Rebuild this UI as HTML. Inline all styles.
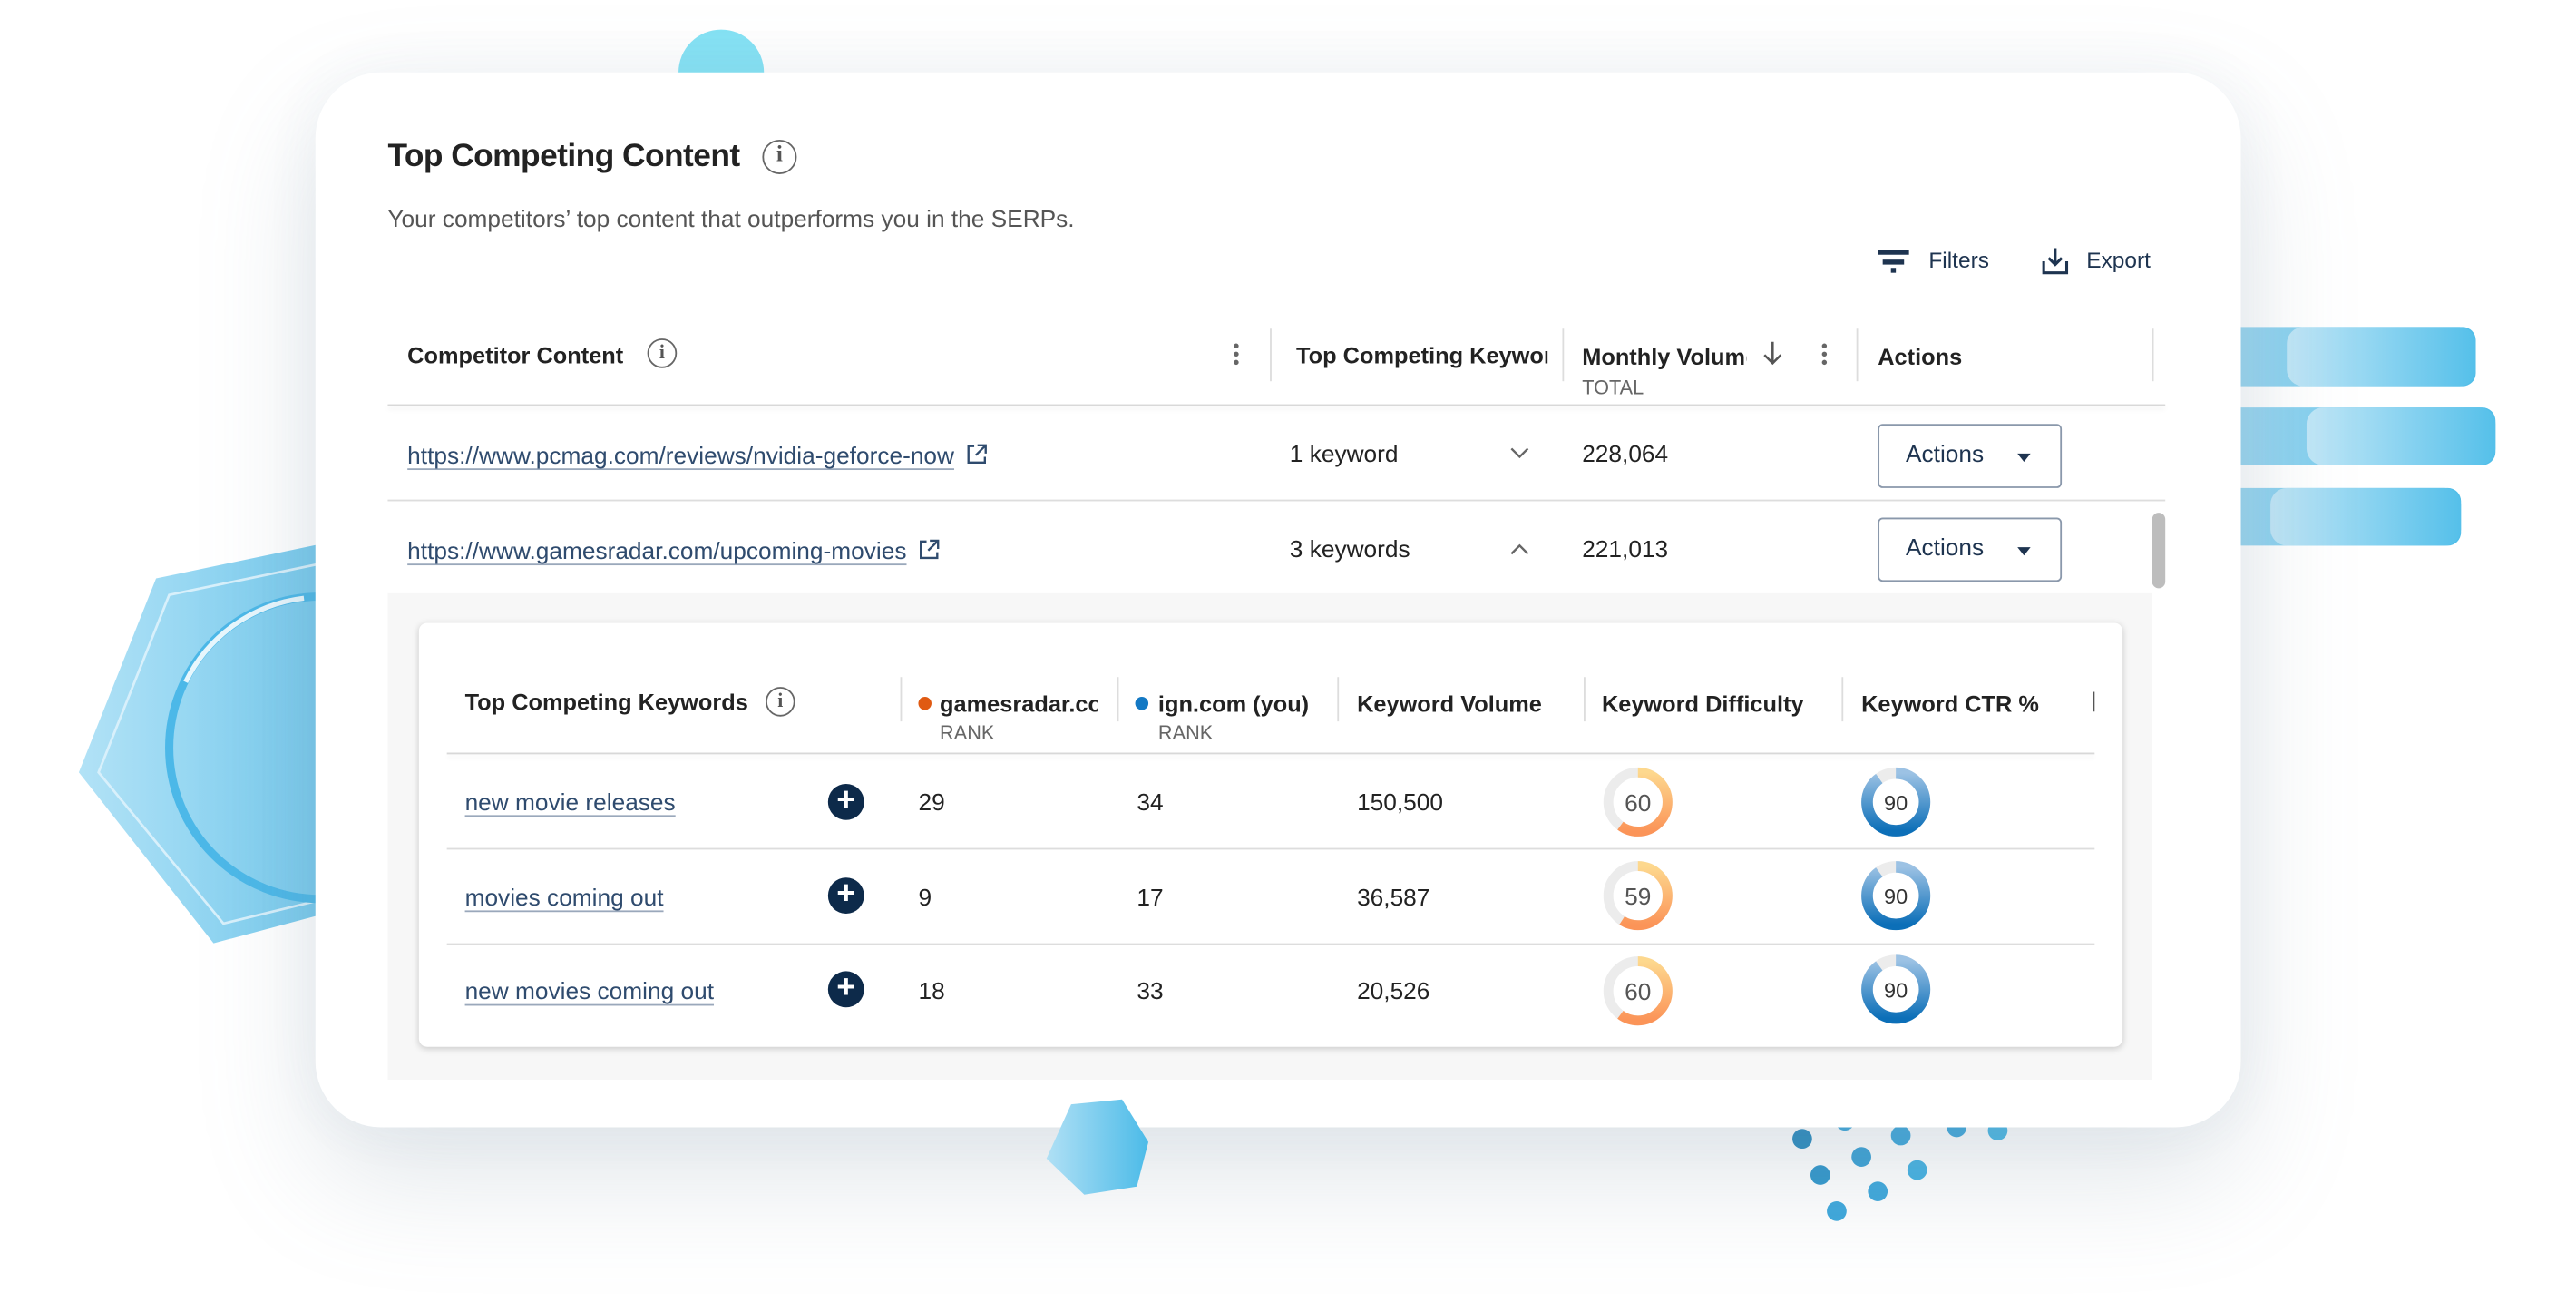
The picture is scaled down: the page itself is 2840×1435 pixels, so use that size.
<!DOCTYPE html>
<html><head><meta charset="utf-8">
<style>
html,body{margin:0;padding:0;width:2840px;height:1434px;overflow:hidden;background:#fff;}
#w{position:absolute;left:0;top:0;width:1568px;height:792px;transform:scale(1.81122);transform-origin:0 0;font-family:"Liberation Sans",sans-serif;color:#222;}
.a{position:absolute;white-space:nowrap;}
.card{position:absolute;left:192px;top:44px;width:1172px;height:642px;background:#fff;border-radius:40px;box-shadow:0 30px 80px rgba(120,140,160,0.22),0 0 40px rgba(120,140,160,0.08);}
.h{font-size:14px;font-weight:bold;color:#222;}
.t{font-size:14.5px;color:#222;}
.lk{font-size:14.5px;color:#2f4b6e;text-decoration:underline;text-decoration-color:#9aa8bb;text-underline-offset:3px;}
.vd{position:absolute;width:1px;background:#ddd;}
.hl{position:absolute;height:1px;background:#ddd;}
.info{position:absolute;border:1.6px solid #666;border-radius:50%;box-sizing:border-box;text-align:center;color:#555;font-weight:bold;font-family:"Liberation Serif",serif;}
.btn{position:absolute;width:112px;height:39px;border:1.5px solid #8a98ab;border-radius:3px;box-sizing:border-box;background:#fff;}
.btn span{position:absolute;left:16px;top:10px;font-size:14.5px;color:#1e3450;}
.btn i{position:absolute;left:84px;top:17px;width:0;height:0;border-left:4.5px solid transparent;border-right:4.5px solid transparent;border-top:5px solid #1e3450;}
.plus{position:absolute;width:22px;height:22px;border-radius:50%;background:#0d2a4a;color:#fff;font-size:20px;line-height:21px;text-align:center;font-weight:bold;}
.kb{position:absolute;width:3px;}
.kb b{display:block;width:3px;height:3px;border-radius:50%;background:#666;margin-bottom:2px;}
.ext{margin-left:7px;vertical-align:-1px;}
</style></head><body><div id="w">
<div class="a" style="left:413px;top:18px;width:52px;height:52px;border-radius:50%;background:#86e3f5;"></div>
<svg class="a" style="left:0;top:300px" width="260" height="300">
<defs><linearGradient id="hg" x1="0" x2="1"><stop offset="0" stop-color="#b2e2f6"/><stop offset="1" stop-color="#6cc6ec"/></linearGradient></defs>
<polygon points="48,170 95,52 200,30 220,250 130,274" fill="url(#hg)"/>
<polygon points="60,170 103,62 200,42 210,244 136,262" fill="none" stroke="#d8f0fb" stroke-width="1.5"/>
<circle cx="195" cy="155" r="92" fill="none" stroke="#4cb8e8" stroke-width="5"/>
<path d="M113,115 A92,92 0 0 1 185,64" fill="none" stroke="#e8f7fd" stroke-width="3"/>
</svg>
<svg class="a" style="left:1340px;top:190px" width="200" height="150">
<defs><linearGradient id="bg" x1="0" x2="1"><stop offset="0" stop-color="#a8dcf3"/><stop offset="1" stop-color="#4fbde8"/></linearGradient>
<linearGradient id="bg2" x1="0" x2="1"><stop offset="0" stop-color="#c2e7f7"/><stop offset="1" stop-color="#55c0ea"/></linearGradient></defs>
<rect x="0" y="9" width="167" height="36" rx="8" fill="url(#bg)"/><rect x="52" y="9" width="115" height="36" rx="10" fill="url(#bg2)"/>
<rect x="0" y="58" width="179" height="35" rx="8" fill="url(#bg)"/><rect x="64" y="58" width="115" height="35" rx="10" fill="url(#bg2)"/>
<rect x="0" y="107" width="158" height="35" rx="8" fill="url(#bg)"/><rect x="42" y="107" width="116" height="35" rx="10" fill="url(#bg2)"/>
</svg>
<svg class="a" style="left:1080px;top:670px" width="160" height="90">
<g fill="#3ea8dc">
<circle cx="17" cy="23" r="6" fill="#2a8cc0"/><circle cx="43" cy="12" r="6"/><circle cx="77" cy="21" r="6"/><circle cx="111" cy="16" r="6"/><circle cx="136" cy="18" r="6" fill="#4ab8e6"/>
<circle cx="28" cy="45" r="6" fill="#3298cc"/><circle cx="53" cy="34" r="6" fill="#3aa2d6"/><circle cx="87" cy="42" r="6" fill="#45b2e2"/>
<circle cx="38" cy="67" r="6"/><circle cx="63" cy="55" r="6"/>
</g></svg>

<div class="card"></div>
<svg class="a" style="left:630px;top:660px" width="80" height="80">
<defs><linearGradient id="sh" x1="0" x2="1"><stop offset="0" stop-color="#b0e0f5"/><stop offset="1" stop-color="#4cbbe8"/></linearGradient></defs>
<polygon points="22,12 53,9 69,35 62,62 30,67 7,45" fill="url(#sh)"/>
</svg>

<div class="a" style="left:236px;top:84px;font-size:19.5px;font-weight:bold;color:#222;letter-spacing:-0.3px">Top Competing Content</div>
<div class="info" style="left:464px;top:85px;width:21px;height:21px;font-size:14px;line-height:18px;">i</div>
<div class="a" style="left:236px;top:126px;font-size:14.5px;color:#555">Your competitors’ top content that outperforms you in the SERPs.</div>
<div class="a" style="left:1143px;top:152px;width:19px;height:2.5px;background:#1e3450"></div>
<div class="a" style="left:1146px;top:158px;width:13px;height:2.5px;background:#1e3450"></div>
<div class="a" style="left:1151px;top:163px;width:3px;height:3px;background:#1e3450"></div>
<div class="a" style="left:1174px;top:151px;font-size:13.5px;color:#1e3450">Filters</div>
<svg class="a" style="left:1242px;top:150px" width="18" height="18"><path d="M9 1 V11 M5 7 L9 11 L13 7 M2 9 V16 H16 V9" fill="none" stroke="#1e3450" stroke-width="1.7"/></svg>
<div class="a" style="left:1270px;top:151px;font-size:13.5px;color:#1e3450">Export</div>

<div class="a h" style="left:248px;top:208px">Competitor Content</div>
<div class="info" style="left:394px;top:206px;width:18px;height:18px;font-size:12px;line-height:15px;">i</div>
<div class="kb" style="left:751px;top:209px"><b></b><b></b><b></b></div>
<div class="vd" style="left:773px;top:200px;height:32px"></div>
<div class="a h" style="left:789px;top:208px;width:153px;overflow:hidden">Top Competing Keywords</div>
<div class="vd" style="left:951px;top:200px;height:32px"></div>
<div class="a h" style="left:963px;top:209px;width:100px;overflow:hidden">Monthly Volume</div>
<svg class="a" style="left:1072px;top:207px" width="14" height="16"><path d="M7 1 V14 M2 9 L7 14 L12 9" fill="none" stroke="#555" stroke-width="1.4"/></svg>
<div class="kb" style="left:1109px;top:209px"><b></b><b></b><b></b></div>
<div class="a" style="left:963px;top:229px;font-size:12px;color:#666">TOTAL</div>
<div class="vd" style="left:1130px;top:200px;height:32px"></div>
<div class="a h" style="left:1143px;top:209px">Actions</div>
<div class="vd" style="left:1310px;top:200px;height:32px"></div>
<div class="hl" style="left:236px;top:246px;width:1082px;background:#d8d8d8;box-shadow:0 2px 3px rgba(0,0,0,0.08)"></div>

<div class="a" style="left:248px;top:269px"><span class="lk">https://www.pcmag.com/reviews/nvidia-geforce-now</span><svg class="ext" width="13" height="13"><path d="M5 1.5 H1.5 V11.5 H11.5 V8 M7 1 H12 V6 M12 1 L6 7" fill="none" stroke="#2f4b6e" stroke-width="1.3"/></svg></div>
<div class="a t" style="left:785px;top:269px">1 keyword</div>
<svg class="a" style="left:919px;top:272px" width="12" height="8"><path d="M1 1 L6 6 L11 1" fill="none" stroke="#666" stroke-width="1.3"/></svg>
<div class="a t" style="left:963px;top:269px">228,064</div>
<div class="btn" style="left:1143px;top:258px"><span>Actions</span><i></i></div>
<div class="hl" style="left:236px;top:304px;width:1082px"></div>
<div class="a" style="left:248px;top:327px"><span class="lk">https://www.gamesradar.com/upcoming-movies</span><svg class="ext" width="13" height="13"><path d="M5 1.5 H1.5 V11.5 H11.5 V8 M7 1 H12 V6 M12 1 L6 7" fill="none" stroke="#2f4b6e" stroke-width="1.3"/></svg></div>
<div class="a t" style="left:785px;top:327px">3 keywords</div>
<svg class="a" style="left:919px;top:330px" width="12" height="8"><path d="M1 7 L6 2 L11 7" fill="none" stroke="#666" stroke-width="1.3"/></svg>
<div class="a t" style="left:963px;top:327px">221,013</div>
<div class="btn" style="left:1143px;top:315px"><span>Actions</span><i></i></div>
<div class="a" style="left:1310px;top:312px;width:8px;height:46px;border-radius:4px;background:#bdbdbd"></div>

<div class="a" style="left:236px;top:361px;width:1074px;height:296px;background:#f7f7f7"></div>
<div class="a" style="left:255px;top:379px;width:1037px;height:258px;background:#fff;border-radius:5px;box-shadow:0 1px 4px rgba(0,0,0,0.18)"></div>
<div class="a h" style="left:283px;top:419px">Top Competing Keywords</div>
<div class="info" style="left:466px;top:418px;width:18px;height:18px;font-size:12px;line-height:15px;">i</div>
<div class="vd" style="left:548px;top:412px;height:27px"></div>
<div class="a" style="left:559px;top:424px;width:8px;height:8px;border-radius:50%;background:#e05a12"></div>
<div class="a h" style="left:572px;top:420px;width:96px;overflow:hidden">gamesradar.com</div>
<div class="a" style="left:572px;top:439px;font-size:12px;color:#666">RANK</div>
<div class="vd" style="left:680px;top:412px;height:27px"></div>
<div class="a" style="left:691px;top:424px;width:8px;height:8px;border-radius:50%;background:#1479c4"></div>
<div class="a h" style="left:705px;top:420px">ign.com (you)</div>
<div class="a" style="left:705px;top:439px;font-size:12px;color:#666">RANK</div>
<div class="vd" style="left:814px;top:412px;height:27px"></div>
<div class="a h" style="left:826px;top:420px">Keyword Volume</div>
<div class="vd" style="left:964px;top:412px;height:27px"></div>
<div class="a h" style="left:975px;top:420px">Keyword Difficulty</div>
<div class="vd" style="left:1121px;top:412px;height:27px"></div>
<div class="a h" style="left:1133px;top:420px">Keyword CTR %</div>
<div class="vd" style="left:1274px;top:421px;height:12px;background:#555"></div>
<div class="hl" style="left:272px;top:458px;width:1003px;background:#d8d8d8;box-shadow:0 2px 3px rgba(0,0,0,0.06)"></div>
<div class="hl" style="left:272px;top:516px;width:1003px"></div>
<div class="hl" style="left:272px;top:574px;width:1003px"></div>

<svg width="0" height="0" style="position:absolute"><defs>
<linearGradient id="og" x1="1" y1="0" x2="0" y2="0"><stop offset="0" stop-color="#fdd88e"/><stop offset="1" stop-color="#fb9458"/></linearGradient>
<linearGradient id="blg" x1="1" y1="0" x2="0" y2="0"><stop offset="0" stop-color="#9cc2e4"/><stop offset="1" stop-color="#0c6fb8"/></linearGradient>
</defs></svg>

<div class="a lk" style="left:283px;top:481px">new movie releases</div>
<div class="plus" style="left:504px;top:477px">+</div>
<div class="a t" style="left:559px;top:481px">29</div>
<div class="a t" style="left:692px;top:481px">34</div>
<div class="a t" style="left:826px;top:481px">150,500</div>
<svg class="a" style="left:975px;top:466px" width="44" height="44"><circle cx="22" cy="22" r="18" fill="#fff" stroke="#ececec" stroke-width="6"/><circle cx="22" cy="22" r="18" fill="none" stroke="url(#og)" stroke-width="6" stroke-dasharray="67.9 200" transform="rotate(-90 22 22)"/><text x="22" y="27.5" text-anchor="middle" font-size="14.5" fill="#555" font-family="Liberation Sans">60</text></svg>
<svg class="a" style="left:1132px;top:466px" width="44" height="44"><circle cx="22" cy="22" r="17.5" fill="#fff" stroke="#ececec" stroke-width="7"/><circle cx="22" cy="22" r="17.5" fill="none" stroke="url(#blg)" stroke-width="7" stroke-dasharray="99 200" transform="rotate(-90 22 22)"/><text x="22" y="27" text-anchor="middle" font-size="13" fill="#333" font-family="Liberation Sans">90</text></svg>

<div class="a lk" style="left:283px;top:539px">movies coming out</div>
<div class="plus" style="left:504px;top:534px">+</div>
<div class="a t" style="left:559px;top:539px">9</div>
<div class="a t" style="left:692px;top:539px">17</div>
<div class="a t" style="left:826px;top:539px">36,587</div>
<svg class="a" style="left:975px;top:523px" width="44" height="44"><circle cx="22" cy="22" r="18" fill="#fff" stroke="#ececec" stroke-width="6"/><circle cx="22" cy="22" r="18" fill="none" stroke="url(#og)" stroke-width="6" stroke-dasharray="66.7 200" transform="rotate(-90 22 22)"/><text x="22" y="27.5" text-anchor="middle" font-size="14.5" fill="#555" font-family="Liberation Sans">59</text></svg>
<svg class="a" style="left:1132px;top:523px" width="44" height="44"><circle cx="22" cy="22" r="17.5" fill="#fff" stroke="#ececec" stroke-width="7"/><circle cx="22" cy="22" r="17.5" fill="none" stroke="url(#blg)" stroke-width="7" stroke-dasharray="99 200" transform="rotate(-90 22 22)"/><text x="22" y="27" text-anchor="middle" font-size="13" fill="#333" font-family="Liberation Sans">90</text></svg>

<div class="a lk" style="left:283px;top:596px">new movies coming out</div>
<div class="plus" style="left:504px;top:591px">+</div>
<div class="a t" style="left:559px;top:596px">18</div>
<div class="a t" style="left:692px;top:596px">33</div>
<div class="a t" style="left:826px;top:596px">20,526</div>
<svg class="a" style="left:975px;top:581px" width="44" height="44"><circle cx="22" cy="22" r="18" fill="#fff" stroke="#ececec" stroke-width="6"/><circle cx="22" cy="22" r="18" fill="none" stroke="url(#og)" stroke-width="6" stroke-dasharray="67.9 200" transform="rotate(-90 22 22)"/><text x="22" y="27.5" text-anchor="middle" font-size="14.5" fill="#555" font-family="Liberation Sans">60</text></svg>
<svg class="a" style="left:1132px;top:580px" width="44" height="44"><circle cx="22" cy="22" r="17.5" fill="#fff" stroke="#ececec" stroke-width="7"/><circle cx="22" cy="22" r="17.5" fill="none" stroke="url(#blg)" stroke-width="7" stroke-dasharray="99 200" transform="rotate(-90 22 22)"/><text x="22" y="27" text-anchor="middle" font-size="13" fill="#333" font-family="Liberation Sans">90</text></svg>
</div></body></html>
